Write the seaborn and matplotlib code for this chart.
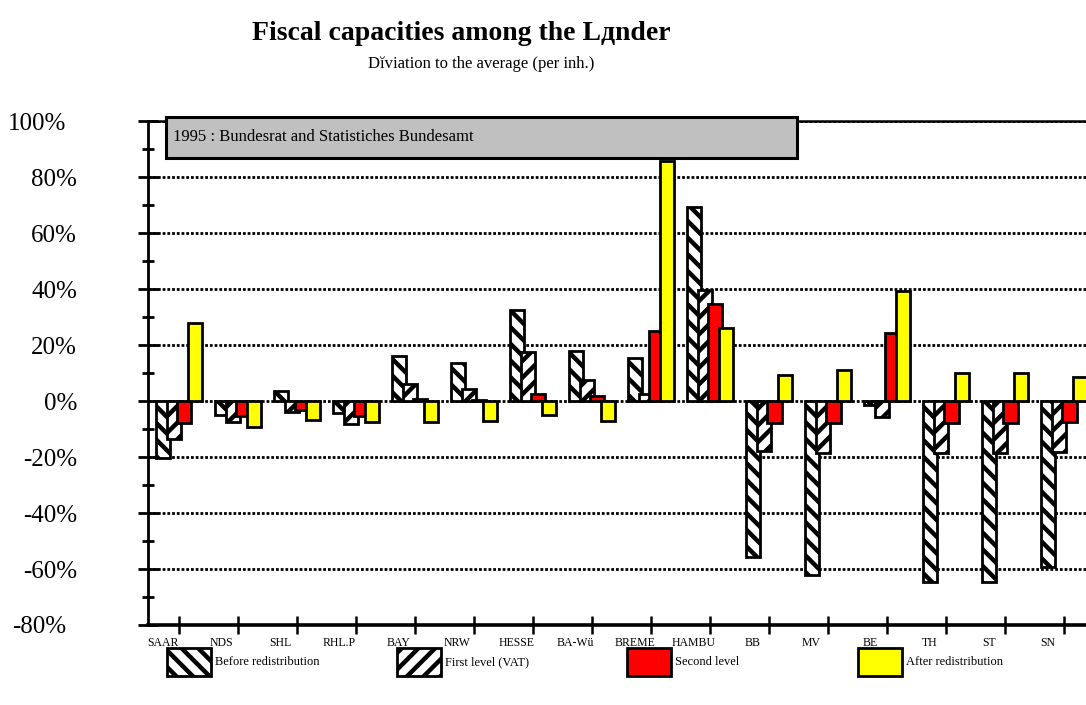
import numpy as np
import matplotlib
matplotlib.use("Agg")
import matplotlib.pyplot as plt
import seaborn as sns
from matplotlib.patches import Rectangle
from matplotlib.transforms import ScaledTranslation


# ----------------------------
# Data (deviation to the average, % per inhabitant)
# ----------------------------
laender = ["SAAR", "NDS", "SHL", "RHL.P", "BAY", "NRW", "HESSE", "BA-Wü",
           "BREME", "HAMBU", "BB", "MV", "BE", "TH", "ST", "SN"]

before_redistribution = [-20.2, -5.0, 3.6, -4.3, 16.1, 13.7, 32.5, 18.0,
                         15.5, 69.5, -55.6, -62.1, -1.4, -64.8, -64.8, -59.2]
first_level_vat = [-13.6, -7.6, -3.8, -8.1, 6.1, 4.5, 17.5, 7.5,
                   2.4, 39.8, -17.9, -18.7, -5.8, -18.7, -18.7, -18.1]
second_level = [-8.0, -5.2, -3.1, -5.5, 0.7, 0.5, 2.7, 1.8,
                25.0, 34.8, -7.7, -8.0, 24.5, -8.0, -7.7, -7.4]
after_redistribution = [28.0, -9.2, -6.7, -7.6, -7.6, -7.2, -5.0, -7.1,
                        85.8, 26.2, 9.3, 11.0, 39.4, 9.9, 9.9, 8.7]

y_ticks = [-80, -60, -40, -20, 0, 20, 40, 60, 80, 100]
y_tick_labels = [f"{v}%" for v in y_ticks]

series_names = ["Before redistribution", "First level (VAT)", "Second level", "After redistribution"]

# ----------------------------
# Style
# ----------------------------
sns.set_theme(style="white")
plt.rcParams["font.family"] = ["Liberation Serif", "DejaVu Serif"]
plt.rcParams["hatch.linewidth"] = 3.2
for key in ["text.color", "axes.labelcolor", "xtick.color", "ytick.color"]:
    plt.rcParams[key] = "black"

fig = plt.figure(figsize=(10.86, 7.05), dpi=100)
ax = fig.add_axes([0.1363, 0.1135, 0.8637, 0.7145])

pos = np.arange(len(laender), dtype=float)
step = 0.18
bar_w = 0.24
styles = [
    dict(color="white", hatch="\\\\"),
    dict(color="white", hatch="//"),
    dict(color="#ff0000", hatch=None),
    dict(color="#ffff00", hatch=None),
]
series = [before_redistribution, first_level_vat, second_level, after_redistribution]

for i, (vals, st) in enumerate(zip(series, styles)):
    off = (i - 1.5) * step
    sns.barplot(x=pos + off, y=vals, native_scale=True, orient="x", width=bar_w,
                errorbar=None, color=st["color"], hatch=st["hatch"],
                edgecolor="black", linewidth=2.0, saturation=1, ax=ax)

# ----------------------------
# Axes
# ----------------------------
ax.set_xlim(-0.525, 15.37)
ax.set_ylim(-80, 100)

ax.set_yticks(y_ticks, y_tick_labels)
ax.set_yticks(np.arange(-70, 100, 20), minor=True)
ax.tick_params(axis="y", which="major", direction="inout", length=14, width=2,
               pad=44, labelsize=18, left=True)
ax.tick_params(axis="y", which="minor", direction="inout", length=8, width=2, left=True)
for lab in ax.get_yticklabels():
    lab.set_horizontalalignment("right")
    if lab.get_text() in ("100%", "-80%"):
        lab.set_transform(lab.get_transform() + ScaledTranslation(-0.11, 0, fig.dpi_scale_trans))

ax.set_xticks(pos, [""] * len(pos))
ax.set_xticks(pos - 0.28, laender, minor=True)
ax.tick_params(axis="x", which="major", direction="inout", length=13, width=1.8, bottom=True)
ax.tick_params(axis="x", which="minor", length=0, pad=9, labelsize=8.5)
ax.set_xlabel("")
ax.set_ylabel("")

ax.yaxis.grid(True, which="major", color="black", linestyle=(0, (1, 0.7)), linewidth=2.0)
ax.set_axisbelow(True)

ax.spines["right"].set_visible(False)
ax.spines["left"].set_linewidth(2.0)
ax.spines["bottom"].set_linewidth(2.6)
ax.spines["top"].set_linewidth(1.8)
for s in ["left", "bottom", "top"]:
    ax.spines[s].set_color("black")

# ----------------------------
# Titles and source box
# ----------------------------
fig.text(0.4245, 0.952, "Fiscal capacities among the Lдnder", ha="center", va="center",
         fontsize=20, fontweight="bold")
fig.text(0.443, 0.909, "Dĭviation to the average (per inh.)", ha="center", va="center",
         fontsize=12)

box = Rectangle((0.1529, 0.776), 0.581, 0.058, transform=fig.transFigure,
                facecolor="#c0c0c0", edgecolor="black", linewidth=2.2, zorder=5)
fig.add_artist(box)
fig.text(0.159, 0.805, "1995 : Bundesrat and Statistiches Bundesamt", ha="left", va="center",
         fontsize=12, zorder=6)

# ----------------------------
# Legend (bottom row)
# ----------------------------
key_x = [0.1538, 0.3656, 0.5773, 0.7900]
for kx, name, st in zip(key_x, series_names, styles):
    fig.add_artist(Rectangle((kx, 0.0411), 0.0405, 0.0397, transform=fig.transFigure,
                             facecolor=st["color"], hatch=st["hatch"],
                             edgecolor="black", linewidth=2.0))
    fig.text(kx + 0.0445, 0.061, name, ha="left", va="center", fontsize=9)

fig.savefig("out.png", dpi=100)
